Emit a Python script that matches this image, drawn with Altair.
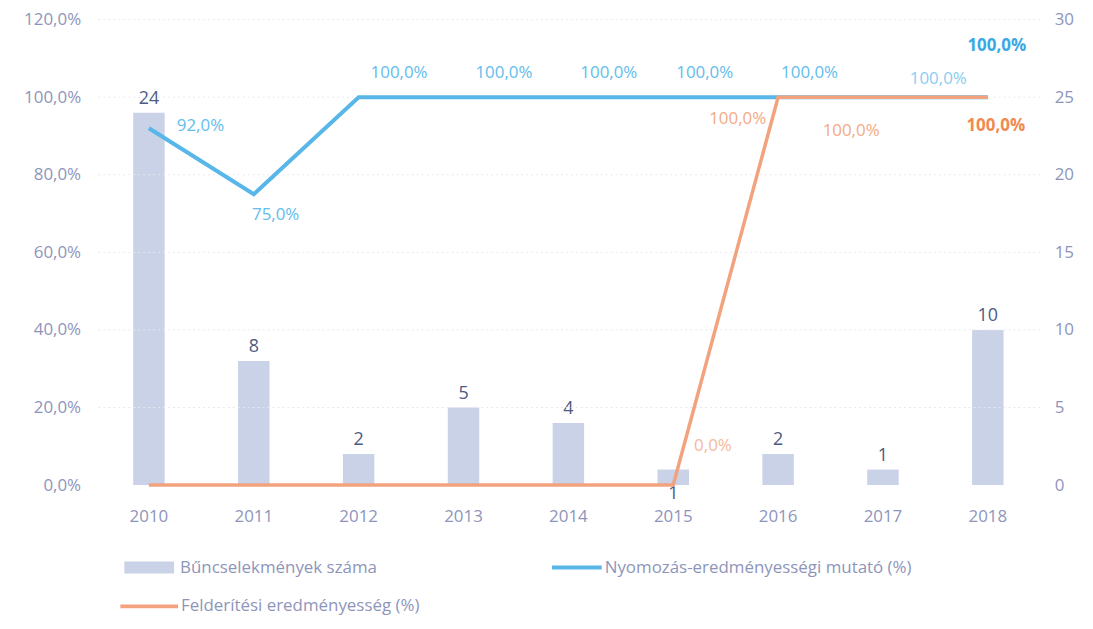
import altair as alt
import pandas as pd

years = ["2010", "2011", "2012", "2013", "2014", "2015", "2016", "2017", "2018"]
crimes = [24, 8, 2, 5, 4, 1, 2, 1, 10]
nyomozas = [92.0, 75.0, 100.0, 100.0, 100.0, 100.0, 100.0, 100.0, 100.0]
felderites = [0.0, 0.0, 0.0, 0.0, 0.0, 0.0, 100.0, 100.0, 100.0]
series_names = ["Bűncselekmények száma", "Nyomozás-eredményességi mutató (%)", "Felderítési eredményesség (%)"]
pct_ticks = [0, 20, 40, 60, 80, 100, 120]
cnt_ticks = [0, 5, 10, 15, 20, 25, 30]

df = pd.DataFrame({"year": years, "crimes": crimes, "nyom": nyomozas, "feld": felderites})
legend_df = pd.DataFrame({"name": series_names})

FONT = "Open Sans"
BAR_C = "#c9d2e6"
BLUE = "#58b6e8"
ORANGE = "#f2a37d"
AXIS_C = "#8e95bb"
BLUE_T = "#62bdec"
ORANGE_T = "#f4aa85"

W, H = 949, 468

x = alt.X("year:N", sort=years, title=None,
          scale=alt.Scale(paddingInner=0.7, paddingOuter=0.35),
          axis=alt.Axis(labelAngle=0, labelFontSize=17, labelColor=AXIS_C, labelFont=FONT,
                        labelPadding=24, domain=False, ticks=False, grid=False))

ycnt_scale = alt.Scale(domain=[0, 30])
ypct_scale = alt.Scale(domain=[0, 120])

cnt_axis = alt.Axis(orient="right", values=cnt_ticks, labelFontSize=17, labelColor=AXIS_C,
                    labelFont=FONT, labelPadding=14, domain=False, ticks=False, grid=False)
pct_axis = alt.Axis(orient="left", values=pct_ticks, labelFontSize=17, labelColor=AXIS_C,
                    labelFont=FONT, labelPadding=16, domain=False, ticks=False, grid=False,
                    labelExpr="replace(format(datum.value, '.1f'), '.', ',') + '%'")

base = alt.Chart(df)

ycnt = alt.Y("crimes:Q", scale=ycnt_scale, title=None, axis=cnt_axis)

bars = base.mark_bar(color=BAR_C).encode(x=x, y=ycnt)
bar_txt = base.mark_text(font=FONT, fontSize=18, color="#4d5b82", baseline="bottom", dy=-5).encode(
    x=x, y=ycnt, text="crimes:Q"
).transform_filter("datum.year != '2015'")
bar_txt15 = base.mark_text(font=FONT, fontSize=18, color="#4d5b82", baseline="top", dy=16).encode(
    x=x, y=ycnt, text="crimes:Q"
).transform_filter("datum.year == '2015'")

bar_layer = alt.layer(bars, bar_txt, bar_txt15)

grid = alt.Chart(pd.DataFrame({"nyom": pct_ticks[1:]})).mark_rule(
    color="#e6e8f0", strokeDash=[2, 3], strokeWidth=1
).encode(y=alt.Y("nyom:Q", scale=ypct_scale, title=None, axis=pct_axis))

ypct = alt.Y("nyom:Q", scale=ypct_scale, title=None, axis=pct_axis)

blue_line = base.mark_line(color=BLUE, strokeWidth=4).encode(x=x, y=ypct)
orange_line = base.mark_line(color=ORANGE, strokeWidth=3.5).encode(
    x=x, y=alt.Y("feld:Q", scale=ypct_scale, title=None, axis=pct_axis))


def lab(field, color, cond, align="center", dx=0, dy=0, bold=False, opacity=1.0):
    return base.transform_filter(cond).transform_calculate(
        lbl=f"replace(format(datum.{field}, '.1f'), '.', ',') + '%'"
    ).mark_text(font=FONT, fontSize=17, color=color, align=align, baseline="middle",
                dx=dx, dy=dy, fontWeight="bold" if bold else "normal", opacity=opacity).encode(
        x=x, y=alt.Y(f"{field}:Q", scale=ypct_scale, title=None, axis=pct_axis), text="lbl:N")


labels = [
    lab("nyom", BLUE_T, "datum.year == '2010'", align="left", dx=28, dy=-2),
    lab("nyom", BLUE_T, "datum.year == '2011'", align="center", dx=22, dy=21),
    lab("nyom", BLUE_T, "indexof(['2012','2013','2014'], datum.year) >= 0", align="left", dx=12, dy=-24),
    lab("nyom", BLUE_T, "indexof(['2015','2016'], datum.year) >= 0", align="left", dx=3, dy=-24),
    lab("nyom", BLUE_T, "datum.year == '2017'", align="left", dx=27, dy=-18, opacity=0.75),
    lab("nyom", "#3aa8e4", "datum.year == '2018'", align="center", dx=9, dy=-51, bold=True),
    lab("feld", ORANGE_T, "datum.year == '2015'", align="left", dx=21, dy=-39, opacity=0.8),
    lab("feld", ORANGE_T, "datum.year == '2016'", align="right", dx=-12, dy=22),
    lab("feld", ORANGE_T, "datum.year == '2017'", align="center", dx=-32, dy=34),
    lab("feld", "#f08a50", "datum.year == '2018'", align="center", dx=8, dy=29, bold=True),
]

# manual legend
def leg_text(i, xp, yp):
    return alt.Chart(legend_df).transform_filter(f"datum.name == '{series_names[i]}'").mark_text(
        font=FONT, fontSize=17, color=AXIS_C, align="left", baseline="middle"
    ).encode(x=alt.value(xp), y=alt.value(yp), text="name:N")


leg = [
    alt.Chart(legend_df).transform_filter(f"datum.name == '{series_names[0]}'").mark_rect(color=BAR_C).encode(
        x=alt.value(28), x2=alt.value(78), y=alt.value(545), y2=alt.value(557)),
    leg_text(0, 84, 551),
    alt.Chart(legend_df).transform_filter(f"datum.name == '{series_names[1]}'").mark_rule(color=BLUE, strokeWidth=4).encode(
        x=alt.value(458), x2=alt.value(508), y=alt.value(551)),
    leg_text(1, 511, 551),
    alt.Chart(legend_df).transform_filter(f"datum.name == '{series_names[2]}'").mark_rule(color=ORANGE, strokeWidth=4).encode(
        x=alt.value(24), x2=alt.value(82), y=alt.value(590)),
    leg_text(2, 85, 590),
]

line_layer = alt.layer(grid, blue_line, orange_line, *labels, *leg)

chart = alt.layer(bar_layer, line_layer).resolve_scale(y="independent").properties(
    width=W, height=H,
    background="white",
    autosize=alt.AutoSizeParams(type="none"),
    padding={"left": 89, "top": 10, "right": 45, "bottom": 132},
).configure_view(stroke=None)

chart.save("out.html", embed_options={"renderer": "svg", "actions": False})
